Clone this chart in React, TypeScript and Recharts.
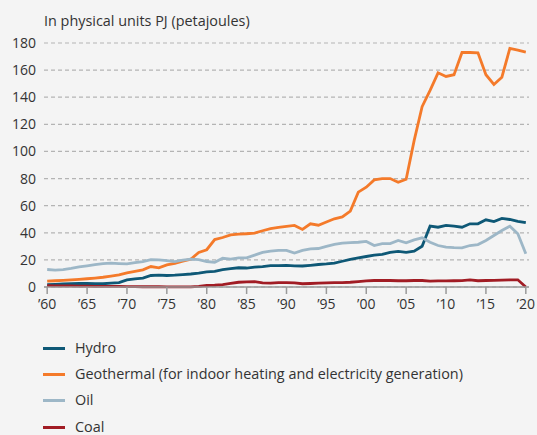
import React from 'react';
import { LineChart, Line, XAxis, YAxis, CartesianGrid } from 'recharts';

const years: number[] = [
  1960, 1961, 1962, 1963, 1964, 1965, 1966, 1967, 1968, 1969,
  1970, 1971, 1972, 1973, 1974, 1975, 1976, 1977, 1978, 1979,
  1980, 1981, 1982, 1983, 1984, 1985, 1986, 1987, 1988, 1989,
  1990, 1991, 1992, 1993, 1994, 1995, 1996, 1997, 1998, 1999,
  2000, 2001, 2002, 2003, 2004, 2005, 2006, 2007, 2008, 2009,
  2010, 2011, 2012, 2013, 2014, 2015, 2016, 2017, 2018, 2019, 2020,
];

const hydro: number[] = [
  1.8, 2.0, 2.2, 2.4, 2.6, 2.7, 2.5, 2.4, 2.8, 3.2,
  5.3, 6.0, 6.6, 8.5, 8.8, 8.5, 8.7, 9.2, 9.6, 10.2,
  11.2, 11.6, 12.9, 13.6, 14.2, 14.0, 14.6, 15.0, 15.7, 15.8,
  15.9, 15.6, 15.5, 16.0, 16.6, 17.0, 17.6, 19.0, 20.3, 21.5,
  22.5, 23.5, 24.0, 25.5, 26.2, 25.5, 26.4, 30.1, 44.9, 44.1,
  45.4, 44.9, 44.1, 46.6, 46.6, 49.6, 48.3, 50.6, 49.8, 48.5, 47.4,
];

const geothermal: number[] = [
  4.3, 4.6, 4.9, 5.3, 5.7, 6.1, 6.6, 7.2, 8.0, 8.9,
  10.4, 11.5, 12.7, 15.1, 14.1, 16.3, 17.5, 19.0, 20.5, 25.5,
  27.5, 35.0, 36.5, 38.5, 39.0, 39.3, 39.7, 41.5, 43.0, 44.0,
  44.8, 45.4, 42.5, 46.6, 45.6, 48.0, 50.3, 51.7, 56.0, 70.0,
  73.6, 79.0, 80.0, 80.0, 77.3, 79.5, 108.0, 133.0, 145.0, 158.0,
  155.3, 156.6, 173.0, 173.0, 172.8, 156.6, 149.4, 154.8, 176.0, 174.7, 173.3,
];

const oil: number[] = [
  12.9, 12.5, 12.8, 13.7, 14.8, 15.6, 16.5, 17.2, 17.6, 17.3,
  17.1, 18.0, 18.8, 20.1, 20.0, 19.5, 18.8, 19.8, 20.6, 20.2,
  18.8, 18.2, 21.2, 20.6, 21.5, 21.5, 23.5, 25.5, 26.5, 27.0,
  27.0, 25.0, 27.0, 28.2, 28.4, 29.9, 31.5, 32.3, 32.8, 33.0,
  33.6, 30.6, 32.0, 32.0, 34.3, 32.6, 34.8, 36.3, 33.0, 30.6,
  29.4, 29.0, 28.8, 30.6, 31.3, 34.3, 38.0, 41.7, 44.9, 39.3, 24.5,
];

const coal: number[] = [
  1.0, 0.9, 0.8, 0.8, 0.7, 0.6, 0.5, 0.5, 0.4, 0.4,
  0.3, 0.3, 0.2, 0.2, 0.2, 0.1, 0.1, 0.1, 0.1, 0.5,
  1.1, 1.3, 1.8, 2.6, 3.5, 3.8, 4.0, 3.0, 2.8, 3.2,
  3.3, 3.0, 2.4, 2.6, 2.8, 3.0, 3.3, 3.3, 3.5, 4.0,
  4.5, 4.8, 4.8, 4.8, 4.6, 4.6, 4.8, 4.8, 4.4, 4.5,
  4.5, 4.6, 4.7, 5.2, 4.6, 4.8, 4.9, 5.1, 5.2, 5.3, 0.0,
];

const xTicks: number[] = [1960, 1965, 1970, 1975, 1980, 1985, 1990, 1995, 2000, 2005, 2010, 2015, 2020];
const yTicks: number[] = [0, 20, 40, 60, 80, 100, 120, 140, 160, 180];

const series = [
  { key: 'hydro', name: 'Hydro', color: '#0e5876' },
  { key: 'geothermal', name: 'Geothermal (for indoor heating and electricity generation)', color: '#f47a2a' },
  { key: 'oil', name: 'Oil', color: '#9db7c7' },
  { key: 'coal', name: 'Coal', color: '#a11c24' },
];

const data = years.map((y, i) => ({
  year: y,
  hydro: hydro[i],
  geothermal: geothermal[i],
  oil: oil[i],
  coal: coal[i],
}));

const FONT = '"Open Sans", "Noto Sans", sans-serif';

const fmtYear = (v: number) => '\u2019' + String(v % 100).padStart(2, '0');

export default function App() {
  return (
    <div
      style={{
        position: 'absolute',
        left: 0,
        top: 0,
        width: 537,
        height: 435,
        background: '#f4f4f4',
        fontFamily: FONT,
        overflow: 'hidden',
      }}
    >
      <div
        style={{
          position: 'absolute',
          left: 44,
          top: 11,
          fontSize: 14.4,
          lineHeight: '19px',
          color: '#333',
          whiteSpace: 'nowrap',
        }}
      >
        In physical units PJ (petajoules)
      </div>
      <div style={{ position: 'absolute', left: 0, top: 0 }}>
        <LineChart
          width={537}
          height={330}
          data={data}
          margin={{ top: 43, right: 8, bottom: 13, left: 4 }}
        >
          <CartesianGrid
            vertical={false}
            stroke="#b4b4b4"
            strokeDasharray="4 3"
            strokeWidth={1.2}
          />
          <XAxis
            dataKey="year"
            type="number"
            domain={[1959.6, 2020.4]}
            ticks={xTicks}
            tickFormatter={fmtYear}
            interval={0}
            height={30}
            tickSize={7}
            tickMargin={5}
            axisLine={{ stroke: '#9a9a9a', strokeWidth: 1.5 }}
            tickLine={{ stroke: '#9a9a9a', strokeWidth: 1.5 }}
            tick={{ fill: '#333', fontSize: 14, fontFamily: FONT }}
          />
          <YAxis
            type="number"
            domain={[0, 180]}
            ticks={yTicks}
            interval={0}
            width={40}
            axisLine={false}
            tickLine={false}
            tick={{ fill: '#333', fontSize: 14, fontFamily: FONT }}
          />
          {series.map((s) => (
            <Line
              key={s.key}
              type="linear"
              dataKey={s.key}
              name={s.name}
              stroke={s.color}
              strokeWidth={2.8}
              dot={false}
              activeDot={false}
              isAnimationActive={false}
            />
          ))}
        </LineChart>
      </div>
      <div style={{ position: 'absolute', left: 43, top: 334.5 }}>
        {series.map((s) => (
          <div
            key={s.key}
            style={{ display: 'flex', alignItems: 'center', height: 26.2 }}
          >
            <div style={{ width: 22, height: 3, background: s.color, marginRight: 10, marginTop: 2 }} />
            <span style={{ fontSize: 14.4, lineHeight: '15px', color: '#333', whiteSpace: 'nowrap' }}>{s.name}</span>
          </div>
        ))}
      </div>
    </div>
  );
}
